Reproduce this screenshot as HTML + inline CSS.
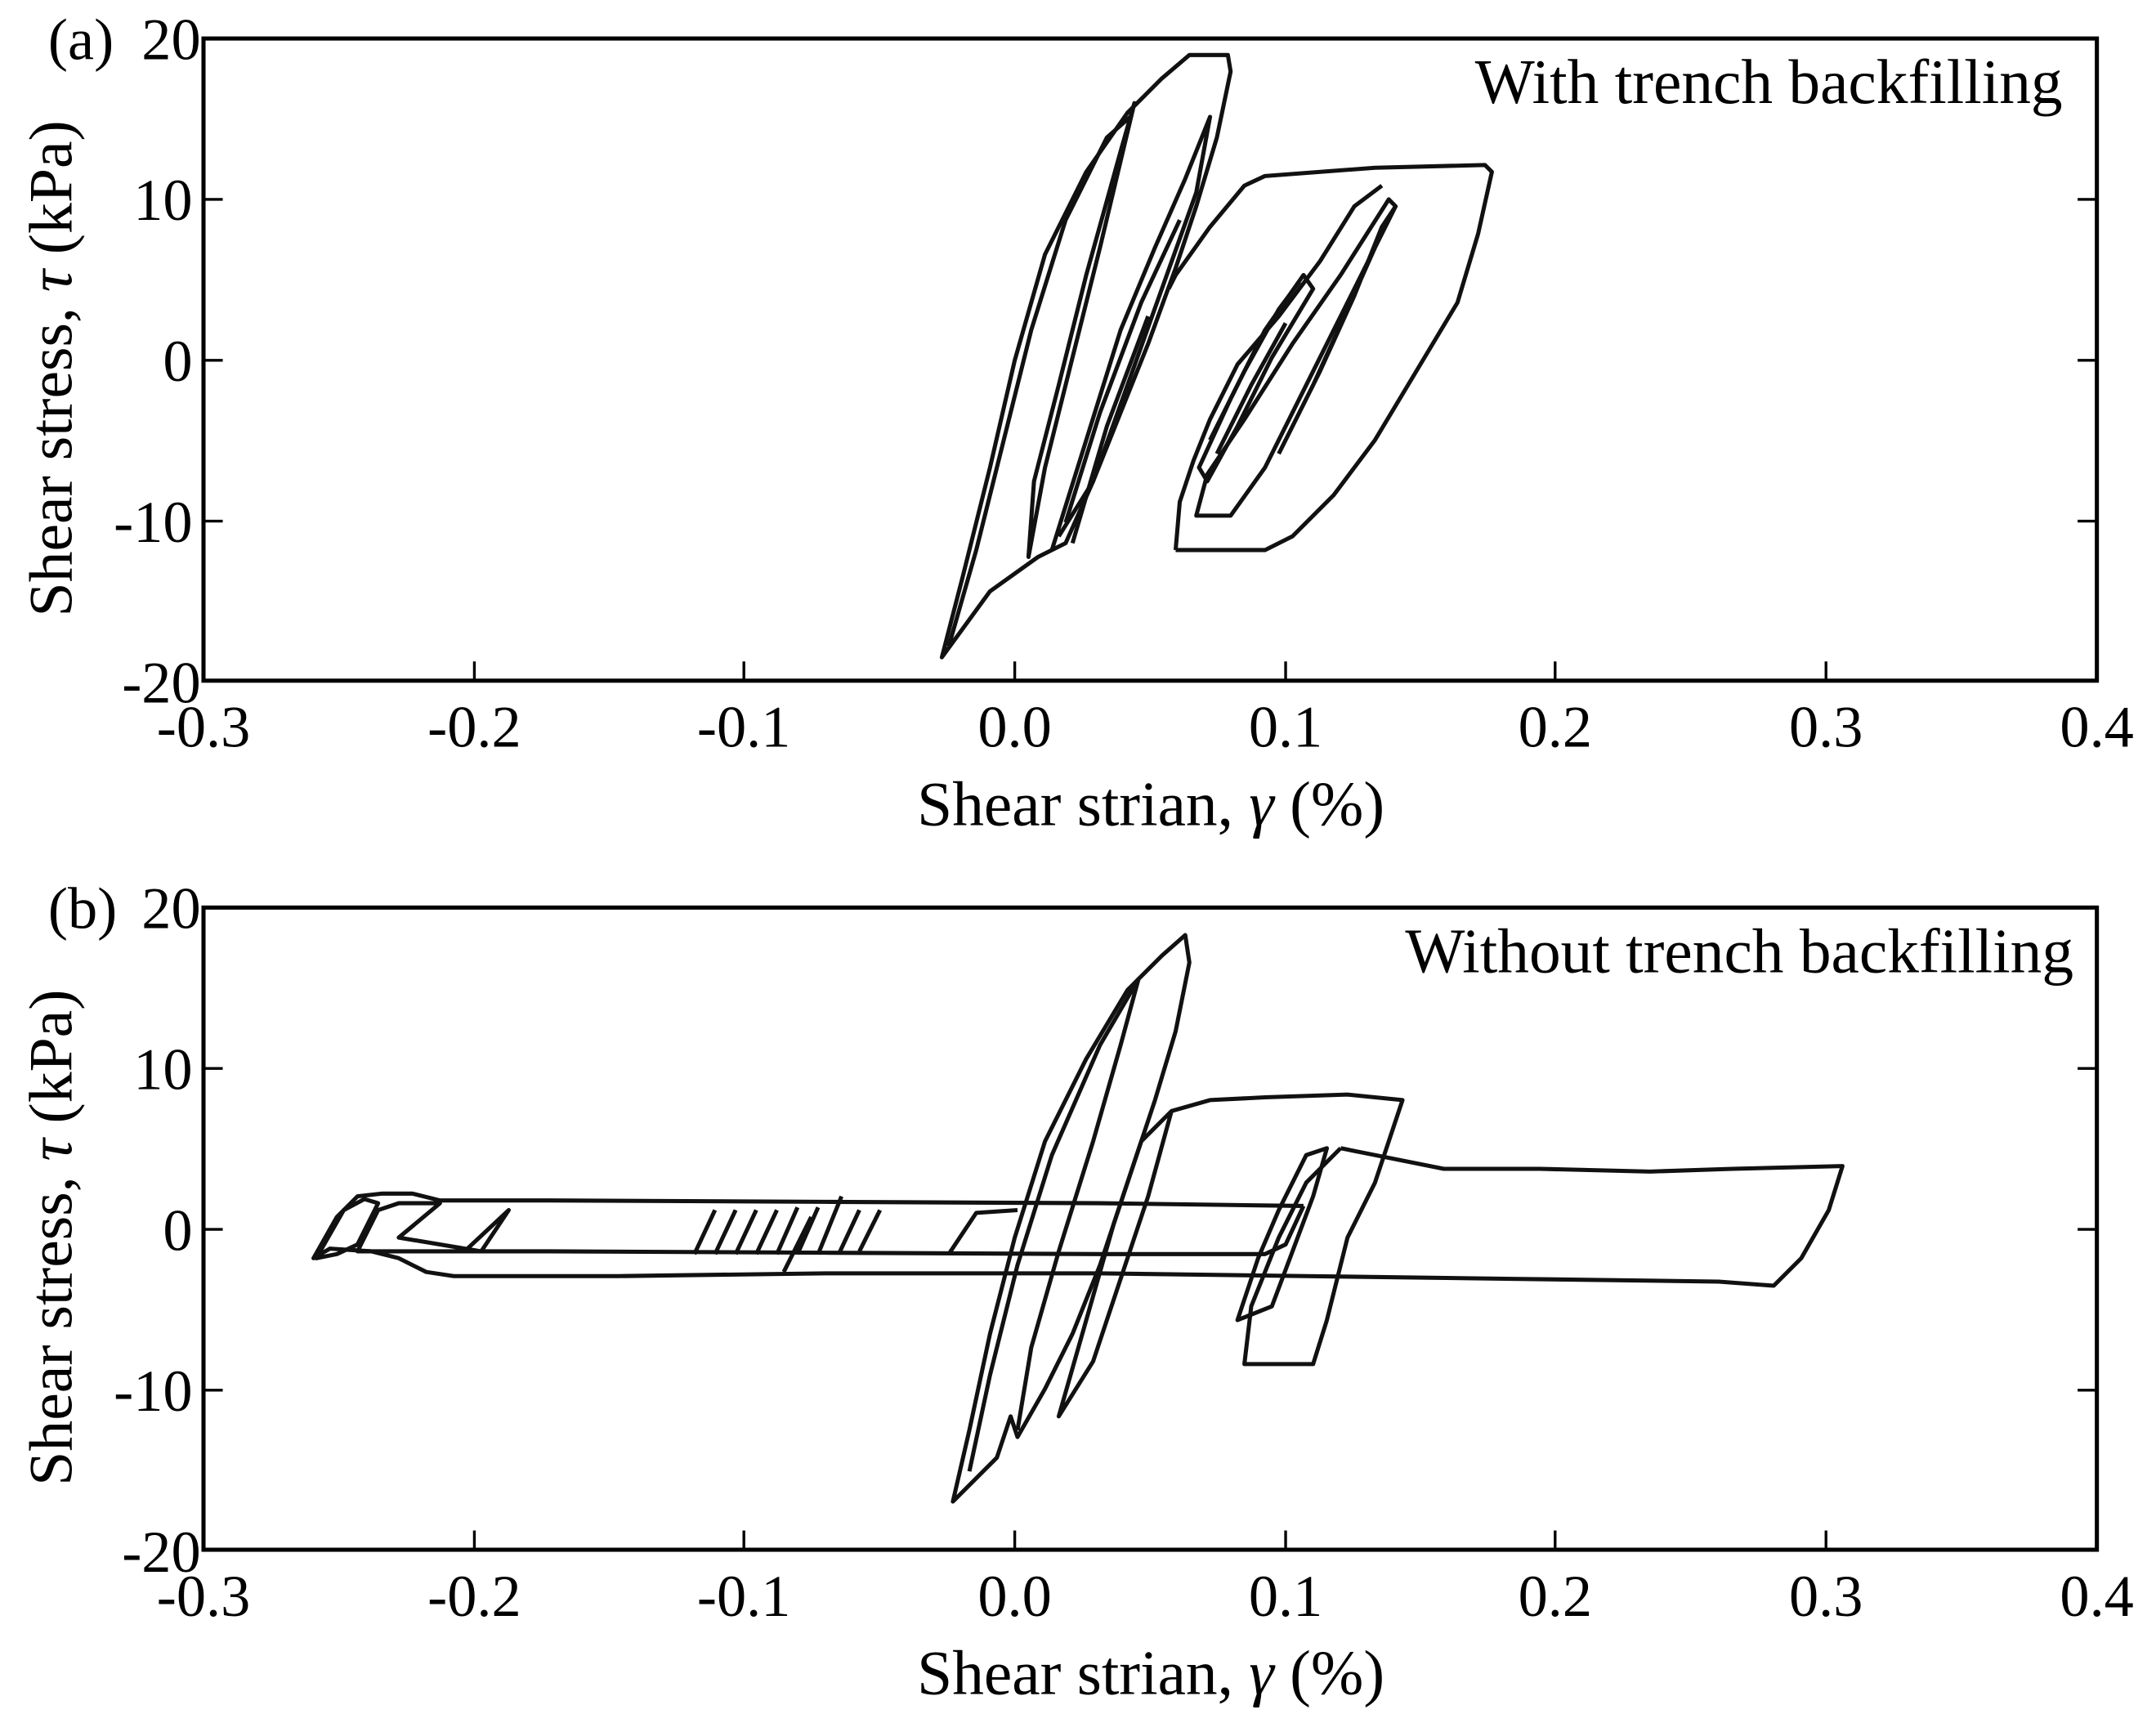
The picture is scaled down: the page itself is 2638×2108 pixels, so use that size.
<!DOCTYPE html>
<html><head><meta charset="utf-8"><style>
html,body{margin:0;padding:0;background:#fff}
svg{display:block}
text{font-family:"Liberation Serif",serif;fill:#000}
</style></head><body>
<svg width="2638" height="2108" viewBox="0 0 1568 1253" preserveAspectRatio="none" xmlns="http://www.w3.org/2000/svg">
<g font-size="43">
<!-- Panel A -->
<rect x="148" y="28" width="1377" height="467" fill="none" stroke="#000" stroke-width="3"/>
<g stroke="#000" stroke-width="2">
<path d="M345,495v-14M541,495v-14M738,495v-14M935,495v-14M1131,495v-14M1328,495v-14M148,145h14M148,262h14M148,379h14M1525,145h-14M1525,262h-14M1525,379h-14"/>
</g>
<g text-anchor="middle">
<text x="148" y="543">-0.3</text><text x="345" y="543">-0.2</text><text x="541" y="543">-0.1</text><text x="738" y="543">0.0</text><text x="935" y="543">0.1</text><text x="1131" y="543">0.2</text><text x="1328" y="543">0.3</text><text x="1525" y="543">0.4</text>
<text x="837" y="600" font-size="46">Shear strian, <tspan font-style="italic">γ</tspan> (%)</text>
</g>
<g text-anchor="end">
<text x="146" y="43">20</text><text x="140" y="160">10</text><text x="140" y="277">0</text><text x="140" y="394">-10</text><text x="146" y="511">-20</text>
</g>
<text x="35" y="43">(a)</text>
<text x="1500" y="75" text-anchor="end" font-size="46">With trench backfilling</text>
<text transform="translate(52,268) rotate(-90)" text-anchor="middle" font-size="45">Shear stress, <tspan font-style="italic">τ</tspan> (kPa)</text>
<g fill="none" stroke="#111" stroke-width="3" stroke-linejoin="round">
<path d="M685,478 L700,420 L720,340 L738,262 L760,185 L790,125 L820,82 L845,57 L865,40 L893,40 L895,52 L885,100 L870,150 L855,195 L835,250 L815,300 L795,350 L775,395 L755,405 L720,430 Z"/>
<path d="M748,405 L760,340 L780,260 L800,180 L825,75 L815,110 L790,200 L770,280 L752,350 Z"/>
<path d="M690,470 L710,400 L730,320 L750,240 L775,160 L805,100 L822,85"/>
<path d="M765,400 L790,320 L815,240 L840,180 L862,130 L880,85 L870,140 L845,210 L820,280 L795,350 L770,390"/>
<path d="M775,380 L800,300 L830,220 L858,160 M780,395 L805,310 L835,230"/>
<path d="M855,400 L920,400 L940,390 L970,360 L1000,320 L1030,270 L1060,220 L1075,170 L1085,125 L1080,120 L1000,122 L920,128 L905,135 L880,165 L855,200 L850,210"/>
<path d="M855,400 L858,365 L868,335 L880,305 L900,265 L930,230 L960,190 L985,150 L1005,135"/>
<path d="M870,375 L895,375 L920,340 L950,280 L980,220 L1015,150 L1010,145 L975,200 L940,250 L905,305 L878,345 Z"/>
<path d="M872,340 L895,290 L920,240 L948,200 L955,210 L925,260 L900,310 L878,350 Z"/>
<path d="M880,320 L905,270 L930,225 L945,205 M885,330 L910,280 L935,235 M935,320 L960,270 L985,215 L1005,165 L1015,150 M930,330 L955,280 L980,225 L1000,180"/>
</g>
<!-- Panel B -->
<rect x="148" y="660" width="1377" height="467" fill="none" stroke="#000" stroke-width="3"/>
<g stroke="#000" stroke-width="2">
<path d="M345,1127v-14M541,1127v-14M738,1127v-14M935,1127v-14M1131,1127v-14M1328,1127v-14M148,777h14M148,894h14M148,1011h14M1525,777h-14M1525,894h-14M1525,1011h-14"/>
</g>
<g text-anchor="middle">
<text x="148" y="1175">-0.3</text><text x="345" y="1175">-0.2</text><text x="541" y="1175">-0.1</text><text x="738" y="1175">0.0</text><text x="935" y="1175">0.1</text><text x="1131" y="1175">0.2</text><text x="1328" y="1175">0.3</text><text x="1525" y="1175">0.4</text>
<text x="837" y="1232" font-size="46">Shear strian, <tspan font-style="italic">γ</tspan> (%)</text>
</g>
<g text-anchor="end">
<text x="146" y="675">20</text><text x="140" y="792">10</text><text x="140" y="909">0</text><text x="140" y="1026">-10</text><text x="146" y="1143">-20</text>
</g>
<text x="35" y="675">(b)</text>
<text x="1508" y="707" text-anchor="end" font-size="46">Without trench backfilling</text>
<text transform="translate(52,900) rotate(-90)" text-anchor="middle" font-size="45">Shear stress, <tspan font-style="italic">τ</tspan> (kPa)</text>
<g fill="none" stroke="#111" stroke-width="3" stroke-linejoin="round">
<path d="M693,1092 L705,1040 L720,970 L738,900 L760,830 L790,770 L820,720 L845,695 L862,680 L865,700 L855,750 L840,800 L820,860 L800,920 L780,970 L760,1010 L740,1045 L735,1030 L725,1060 Z"/>
<path d="M705,1070 L720,1000 L740,920 L765,840 L800,760 L828,712 L815,760 L795,830 L770,910 L750,980 L740,1040"/>
<path d="M770,1030 L790,960 L810,890 L830,830 L852,808 L835,870 L815,930 L795,990 Z"/>
<path d="M852,808 L880,800 L920,798 L980,796 L1020,800 L1000,860 L980,900 L965,960 L955,992 L935,992 L905,992 L910,950 L930,900 L950,860 L975,835"/>
<path d="M975,835 L1000,840 L1050,850 L1120,850 L1200,852 L1260,850 L1340,848 L1330,880 L1310,915 L1290,935 L1250,932 L1100,930 L950,928 L800,926 L600,926 L450,928 L330,928 L310,925 L290,915 L270,910 L240,908 L228,915 L245,885 L260,870 L278,868 L300,868 L320,873 L400,873 L600,874 L800,875 L948,877"/>
<path d="M948,877 L935,905 L920,912 L800,912 L600,911 L400,910 L260,910 L275,880 L290,875 L320,875 L290,900 L350,910 L370,880 L340,908"/>
<path d="M230,915 L250,880 L265,872 L275,875 L260,905 L245,912 Z"/>
<path d="M505,912 L520,880 M520,912 L535,880 M535,912 L550,880 M550,912 L565,880 M565,912 L580,878 M580,912 L595,878 M595,912 L612,870 M610,912 L625,880 M625,910 L640,880 M570,925 L590,885 M690,912 L710,882 L740,880"/>
<path d="M900,960 L915,915 L930,880 L950,840 L965,835 L955,870 L940,910 L925,950 Z"/>
</g>
</g>
</svg>
</body></html>
